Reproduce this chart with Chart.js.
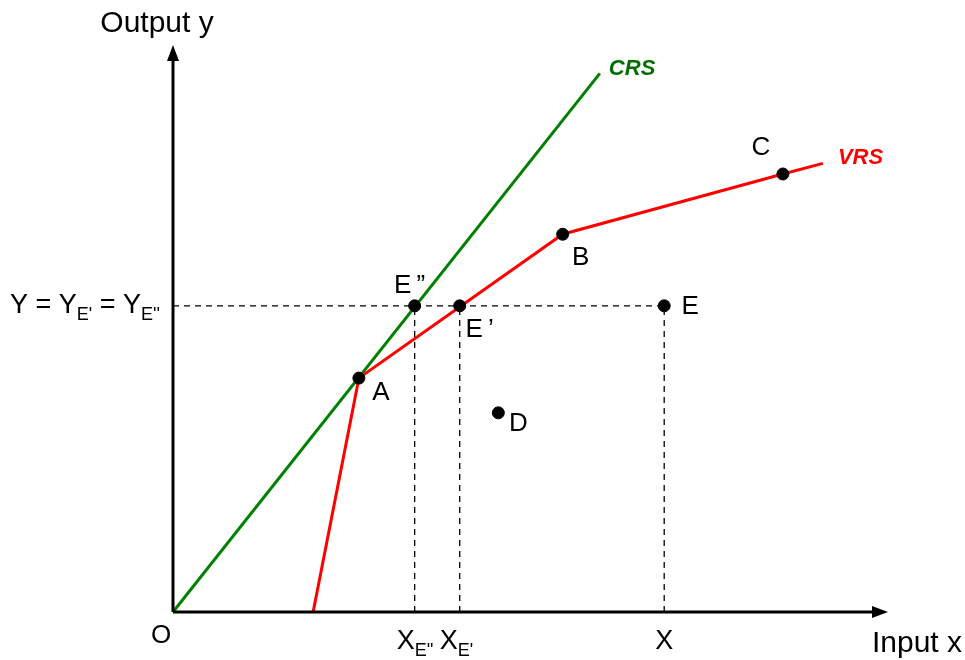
<!DOCTYPE html>
<html>
<head>
<meta charset="utf-8">
<script src="https://cdn.jsdelivr.net/npm/chart.js@4"></script>
<style>
  html, body { margin: 0; padding: 0; background: #fff; }
  #wrap { width: 965px; height: 660px; position: relative; }
</style>
</head>
<body>
<div id="wrap"><canvas id="myChart"></canvas></div>
<script>
Chart.defaults.font.family = "'Liberation Sans', Arial, sans-serif";
Chart.defaults.color = "black";

// frontier data (input x, output y)
const crsLine = [[0, 0], [5.97, 7.60]];
const vrsLine = [[1.96, 0], [2.60, 3.30], [5.45, 5.33], [8.53, 6.18], [9.09, 6.33]];
const pointNames = ["A", "B", "C", "D", "E", "E\u2009\u2019", "E\u2009\u201D"];
const pointX = [2.60, 5.45, 8.53, 4.55, 6.87, 4.01, 3.38];
const pointY = [3.30, 5.33, 6.18, 2.81, 4.32, 4.32, 4.32];
const yE = 4.32;
const xTicks = [3.38, 4.01, 6.87];

const toXY = arr => arr.map(p => ({x: p[0], y: p[1]}));

const dashStyle = {
  borderColor: 'black', borderWidth: 1.3, borderDash: [6, 5],
  pointRadius: 0, showLine: true, fill: false, order: 5
};

const datasets = [
  Object.assign({data: [{x: 0, y: yE}, {x: pointX[4], y: yE}]}, dashStyle),
  ...xTicks.map(x => Object.assign({data: [{x: x, y: 0}, {x: x, y: yE}]}, dashStyle)),
  {
    label: 'CRS', data: toXY(crsLine), showLine: true,
    borderColor: '#008000', borderWidth: 3, pointRadius: 0, order: 3
  },
  {
    label: 'VRS', data: toXY(vrsLine), showLine: true,
    borderColor: '#ff0000', borderWidth: 3, pointRadius: 0, order: 2
  },
  {
    label: 'DMU', data: pointX.map((x, i) => ({x: x, y: pointY[i]})), showLine: false,
    pointRadius: 6, pointBackgroundColor: 'black', pointBorderColor: 'black', order: 1
  }
];

// label offsets in pixels relative to each point
const labelOffsets = [[22, 15], [18, 24], [-22, -26], [20, 11], [26, 1], [20, 24], [-5, -20]];

const FONT = "'Liberation Sans', Arial";

function subText(ctx, x, y, parts, size) {
  // parts: [text, isSub]
  let cx = x;
  parts.forEach(p => {
    ctx.font = (p[1] ? Math.round(size * 0.68) : size) + "px " + FONT;
    ctx.fillText(p[0], cx, p[1] ? y + size * 0.33 : y);
    cx += ctx.measureText(p[0]).width;
  });
  return cx - x;
}

const decorPlugin = {
  id: 'decor',
  afterDatasetsDraw(chart) {
    const ctx = chart.ctx;
    const xs = chart.scales.x, ys = chart.scales.y;
    const ox = xs.getPixelForValue(0), oy = ys.getPixelForValue(0);
    const xEnd = xs.getPixelForValue(xs.max), yEnd = ys.getPixelForValue(ys.max);
    ctx.save();
    // axes
    ctx.strokeStyle = 'black';
    ctx.fillStyle = 'black';
    ctx.lineWidth = 3;
    ctx.beginPath();
    ctx.moveTo(ox, oy); ctx.lineTo(xEnd - 12, oy);
    ctx.moveTo(ox, oy); ctx.lineTo(ox, yEnd + 12);
    ctx.stroke();
    ctx.beginPath();
    ctx.moveTo(xEnd, oy); ctx.lineTo(xEnd - 16, oy - 6); ctx.lineTo(xEnd - 16, oy + 6); ctx.closePath();
    ctx.fill();
    ctx.beginPath();
    ctx.moveTo(ox, yEnd); ctx.lineTo(ox - 6, yEnd + 16); ctx.lineTo(ox + 6, yEnd + 16); ctx.closePath();
    ctx.fill();

    // axis titles
    ctx.textBaseline = 'middle';
    ctx.font = "30px " + FONT;
    ctx.textAlign = 'center';
    ctx.fillText('Output y', ox - 16, 24);
    ctx.textAlign = 'right';
    ctx.fillText('Input x', 962, oy + 32);
    ctx.textAlign = 'center';
    ctx.font = "26px " + FONT;
    ctx.fillText('O', ox - 12, oy + 24);

    // point labels
    ctx.font = "26px " + FONT;
    pointNames.forEach((n, i) => {
      const px = xs.getPixelForValue(pointX[i]), py = ys.getPixelForValue(pointY[i]);
      const off = labelOffsets[i];
      ctx.fillText(n, px + off[0], py + off[1]);
    });

    // frontier names
    ctx.font = "italic bold 22px " + FONT;
    ctx.fillStyle = '#006f00';
    const c = crsLine[1];
    ctx.textAlign = 'left';
    ctx.fillText('CRS', xs.getPixelForValue(c[0]) + 9, ys.getPixelForValue(c[1]) - 4);
    ctx.fillStyle = '#ff0000';
    const v = vrsLine[vrsLine.length - 1];
    ctx.fillText('VRS', xs.getPixelForValue(v[0]) + 15, ys.getPixelForValue(v[1]) - 5);

    // y-level label
    ctx.fillStyle = 'black';
    ctx.textAlign = 'left';
    const ly = ys.getPixelForValue(yE);
    subText(ctx, 10, ly, [["Y = Y", 0], ["E'", 1], [" = Y", 0], ["E''", 1]], 27);

    // x tick labels
    const tickParts = [[["X", 0], ["E''", 1]], [["X", 0], ["E'", 1]], [["X", 0]]];
    const tickShift = [-18, -20, -9];
    xTicks.forEach((x, i) => {
      subText(ctx, xs.getPixelForValue(x) + tickShift[i], oy + 30, tickParts[i], 27);
    });
    ctx.restore();
  }
};

const myChart = new Chart(
  document.getElementById('myChart'), {
    type: 'scatter',
    data: { datasets: datasets },
    options: {
      responsive: true,
      maintainAspectRatio: false,
      animation: false,
      layout: { padding: { left: 173, top: 45, right: 77, bottom: 48 } },
      plugins: { legend: { display: false }, tooltip: { enabled: false } },
      scales: {
        x: { type: 'linear', min: 0, max: 10, display: false },
        y: { type: 'linear', min: 0, max: 8, display: false }
      }
    },
    plugins: [decorPlugin]
  }
);
</script>
</body>
</html>
